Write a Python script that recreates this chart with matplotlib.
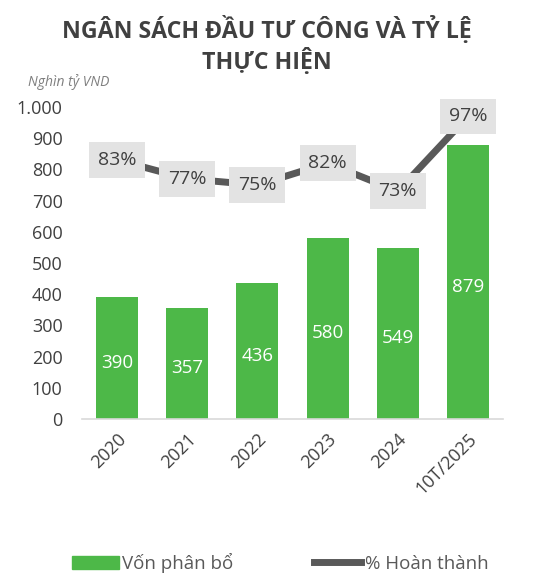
import matplotlib
matplotlib.use("Agg")
import matplotlib.pyplot as plt
from matplotlib.patches import Patch
from matplotlib.lines import Line2D

categories = ["2020", "2021", "2022", "2023", "2024", "10T/2025"]
von_phan_bo = [390, 357, 436, 580, 549, 879]
hoan_thanh = [83, 77, 75, 82, 73, 97]
yticks = [0, 100, 200, 300, 400, 500, 600, 700, 800, 900, 1000]
ytick_labels = ["0", "100", "200", "300", "400", "500", "600", "700", "800", "900", "1.000"]

plt.rcParams['font.family'] = ['Open Sans', 'DejaVu Sans']

fig = plt.figure(figsize=(5.51, 5.84), dpi=100)
ax = fig.add_axes([82/551, 1-419/584, (503-82)/551, (419-107)/584])

green = "#4db848"
gray_line = "#595959"
x = list(range(len(categories)))
ax.bar(x, von_phan_bo, width=0.6, color=green, zorder=2)
for xi, v in zip(x, von_phan_bo):
    ax.text(xi, v / 2 - 15, str(v), ha="center", va="center", color="white", fontsize=13.5, zorder=3)

ax2 = ax.twinx()
ax2.set_ylim(0, 100)
ax2.plot(x, hoan_thanh, color=gray_line, lw=5, zorder=2)
for xi, p in zip(x, hoan_thanh):
    ax2.text(xi, p, f"{p}%", ha="center", va="center", color="#404040", fontsize=14,
             bbox=dict(boxstyle="square,pad=0.45", fc="#e3e3e3", ec="none"), zorder=4)
ax2.axis("off")

ax.set_ylim(0, 1000)
ax.set_xlim(-0.5, len(categories) - 0.5)
ax.set_yticks(yticks)
ax.set_yticklabels(ytick_labels, fontsize=13, color="#404040")
ax.set_xticks(x)
ax.set_xticklabels(categories, rotation=45, ha="right", rotation_mode="anchor", fontsize=13, color="#404040")
ax.tick_params(axis="both", length=0)
ax.tick_params(axis="y", pad=14)
ax.tick_params(axis="x", pad=8)
for s in ["top", "right", "left"]:
    ax.spines[s].set_visible(False)
ax.spines["bottom"].set_color("#d9d9d9")
ax.spines["bottom"].set_linewidth(1.2)

fig.text(267/551, 1-30/584, "NGÂN SÁCH ĐẦU TƯ CÔNG VÀ TỶ LỆ", ha="center", va="center",
         fontsize=16.7, fontweight="bold", color="#404040")
fig.text(267/551, 1-61/584, "THỰC HIỆN", ha="center", va="center",
         fontsize=16.7, fontweight="bold", color="#404040")
fig.text(28/551, 1-82/584, "Nghìn tỷ VND", ha="left", va="center", fontsize=10,
         style="italic", color="#7f7f7f")

handles = [Patch(color=green), Line2D([0], [0], color=gray_line, lw=5)]
fig.legend(handles, ["Vốn phân bổ", "% Hoàn thành"], loc="center", bbox_to_anchor=(280/551, 1-563/584),
           ncol=2, frameon=False, fontsize=13.5, handlelength=2.5, handletextpad=0.2,
           columnspacing=4.3, labelcolor="#595959")

fig.savefig("out.png", dpi=100)
